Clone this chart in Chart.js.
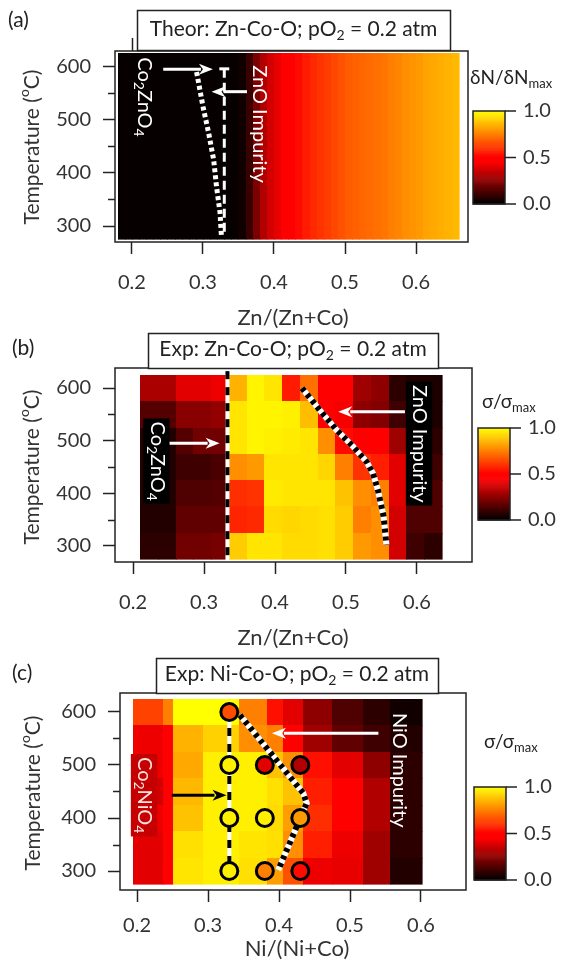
<!DOCTYPE html>
<html>
<head>
<meta charset="utf-8">
<script src="https://cdn.jsdelivr.net/npm/chart.js@4.4.1/dist/chart.umd.min.js"></script>
<style>
  body { margin: 0; background: #fff; width: 571px; height: 973px; overflow: hidden; position: relative; }
  .panel { position: absolute; left: 0; }
</style>
</head>
<body>
<div class="panel" style="top:0px"><canvas id="chartA" width="571" height="330"></canvas></div>
<div class="panel" style="top:330px"><canvas id="chartB" width="571" height="325"></canvas></div>
<div class="panel" style="top:655px"><canvas id="chartC" width="571" height="318"></canvas></div>
<script>
// ---- data ----
var tempRows = [600, 550, 500, 450, 400, 350, 300];
var xTicks = [0.2, 0.3, 0.4, 0.5, 0.6];
var yTicks = [300, 350, 400, 450, 500, 550, 600];
var cbarTicks = [0.0, 0.5, 1.0];

// (a) theory: dN/dNmax vs Zn fraction (same at every temperature)
var theorX = [0.185, 0.195, 0.205, 0.215, 0.225, 0.235, 0.245, 0.255, 0.265, 0.275, 0.285, 0.295,
  0.305, 0.315, 0.325, 0.335, 0.345, 0.355, 0.365, 0.375, 0.385, 0.395, 0.405, 0.415, 0.425, 0.435,
  0.445, 0.455, 0.465, 0.475, 0.485, 0.495, 0.505, 0.515, 0.525, 0.535, 0.545, 0.555, 0.565, 0.575,
  0.585, 0.595, 0.605, 0.615, 0.625, 0.635, 0.645, 0.655];
var theorVal = [0.01, 0.01, 0.01, 0.01, 0.01, 0.01, 0.01, 0.01, 0.01, 0.01, 0.01, 0.01,
  0.01, 0.01, 0.01, 0.01, 0.01, 0.03, 0.10, 0.22, 0.31, 0.37, 0.41, 0.45, 0.49, 0.52,
  0.55, 0.58, 0.60, 0.62, 0.64, 0.66, 0.68, 0.69, 0.70, 0.71, 0.72, 0.73, 0.75, 0.76,
  0.78, 0.79, 0.80, 0.82, 0.83, 0.84, 0.85, 0.86];
var theorBoundX = [0.291, 0.300, 0.308, 0.315, 0.319, 0.324, 0.326];
var theorBoundT = [590, 525, 475, 425, 375, 325, 280];

// (b) experiment Zn-Co-O: sigma/sigmax, rows 600..300 C, columns between edges
var znEdges = [0.210, 0.235, 0.260, 0.285, 0.310, 0.335, 0.360, 0.385, 0.410, 0.435, 0.460, 0.485,
  0.510, 0.535, 0.560, 0.585, 0.610, 0.635];
var znSigma = [
  [0.30, 0.30, 0.40, 0.40, 0.42, 0.85, 0.98, 0.95, 0.55, 0.72, 0.45, 0.46, 0.28, 0.25, 0.08, 0.05, 0.05],
  [0.15, 0.15, 0.24, 0.24, 0.26, 0.95, 0.98, 0.98, 0.97, 0.87, 0.50, 0.44, 0.25, 0.23, 0.11, 0.05, 0.05],
  [0.06, 0.06, 0.15, 0.20, 0.20, 0.95, 0.98, 0.97, 0.96, 0.95, 0.78, 0.52, 0.47, 0.47, 0.28, 0.08, 0.08],
  [0.06, 0.06, 0.11, 0.11, 0.13, 0.78, 0.80, 0.95, 0.95, 0.95, 0.92, 0.75, 0.60, 0.56, 0.40, 0.11, 0.11],
  [0.06, 0.06, 0.14, 0.14, 0.15, 0.59, 0.60, 0.96, 0.95, 0.95, 0.95, 0.88, 0.78, 0.75, 0.40, 0.17, 0.14],
  [0.06, 0.06, 0.17, 0.17, 0.17, 0.57, 0.58, 0.93, 0.92, 0.93, 0.94, 0.90, 0.75, 0.78, 0.37, 0.14, 0.14],
  [0.08, 0.08, 0.20, 0.20, 0.21, 0.90, 0.95, 0.95, 0.93, 0.93, 0.94, 0.90, 0.80, 0.78, 0.37, 0.11, 0.08]
];
var znBoundX = [0.438, 0.463, 0.487, 0.510, 0.529, 0.538, 0.545, 0.553, 0.557];
var znBoundT = [600, 558, 520, 489, 460, 438, 406, 356, 302];

// (c) experiment Ni-Co-O
var niEdges = [0.195, 0.237, 0.250, 0.293, 0.343, 0.383, 0.406, 0.434, 0.474, 0.519, 0.556, 0.601];
var niSigma = [
  [0.63, 0.75, 1.00, 1.00, 0.75, 0.53, 0.40, 0.25, 0.14, 0.08, 0.03],
  [0.42, 0.50, 0.85, 0.91, 0.78, 0.75, 0.47, 0.28, 0.17, 0.11, 0.06],
  [0.42, 0.45, 0.83, 0.97, 0.97, 0.88, 0.78, 0.53, 0.40, 0.25, 0.08],
  [0.37, 0.45, 0.86, 0.97, 0.97, 0.94, 0.88, 0.56, 0.47, 0.31, 0.08],
  [0.42, 0.45, 0.88, 0.97, 0.97, 0.93, 0.81, 0.59, 0.47, 0.31, 0.08],
  [0.40, 0.45, 0.94, 0.97, 0.95, 0.94, 0.78, 0.56, 0.42, 0.28, 0.08],
  [0.40, 0.45, 0.95, 0.97, 0.94, 0.81, 0.66, 0.42, 0.41, 0.28, 0.06]
];
var niCircX = [0.33, 0.33, 0.33, 0.33, 0.38, 0.38, 0.38, 0.43, 0.43, 0.43];
var niCircT = [600, 500, 400, 300, 500, 400, 300, 500, 400, 300];
var niCircV = [0.65, 0.97, 0.97, 0.97, 0.40, 0.97, 0.75, 0.31, 0.80, 0.52];
var niBoundX = [0.345, 0.434, 0.439, 0.399];
var niBoundT = [594, 447, 428, 302];

// ---- helpers ----
var FONT = 'Lato, "Open Sans", sans-serif';

function colorOf(v) {
    v = Math.max(0, Math.min(1, v));
    var r = Math.min(1, v / 0.45), g = Math.max(0, (v - 0.5) / 0.5);
    return 'rgb(' + Math.round(r * 255) + ',' + Math.round(g * 255) + ',0)';
}

function pts(xs, ys) {
    return xs.map(function(x, i) { return {x: x, y: ys[i]}; });
}

function gridCells(edges, matrix) {
    var cells = [];
    matrix.forEach(function(row, i) {
        row.forEach(function(v, j) {
            cells.push({x0: edges[j], x1: edges[j + 1], y0: tempRows[i] - 25, y1: tempRows[i] + 25, v: v});
        });
    });
    return cells;
}

function profileCells(xs, vals, halfW) {
    var cells = [];
    tempRows.forEach(function(t) {
        xs.forEach(function(x, j) {
            cells.push({x0: x - halfW, x1: x + halfW, y0: t - 25, y1: t + 25, v: vals[j]});
        });
    });
    return cells;
}

function richWidth(ctx, parts, size) {
    var w = 0;
    parts.forEach(function(p) {
        ctx.font = (p[1] ? Math.round(size * 0.68) : size) + 'px ' + FONT;
        w += ctx.measureText(p[0]).width;
    });
    return w;
}

function drawRich(ctx, parts, x, y, size, color) {
    ctx.fillStyle = color;
    ctx.textBaseline = 'middle';
    ctx.textAlign = 'left';
    parts.forEach(function(p) {
        var s = p[1] ? Math.round(size * 0.68) : size;
        var dy = p[1] === 'sub' ? size * 0.3 : (p[1] === 'sup' ? -size * 0.38 : 0);
        ctx.font = s + 'px ' + FONT;
        ctx.fillText(p[0], x, y + dy);
        x += ctx.measureText(p[0]).width;
    });
}

function arrow(ctx, x0, y0, x1, y1, color) {
    var ang = Math.atan2(y1 - y0, x1 - x0), hl = 12, hw = 5.5;
    ctx.save();
    ctx.strokeStyle = color; ctx.fillStyle = color; ctx.lineWidth = 3;
    ctx.beginPath(); ctx.moveTo(x0, y0);
    ctx.lineTo(x1 - hl * Math.cos(ang), y1 - hl * Math.sin(ang)); ctx.stroke();
    ctx.translate(x1, y1); ctx.rotate(ang);
    ctx.beginPath(); ctx.moveTo(0, 0); ctx.lineTo(-hl - 2, -hw); ctx.lineTo(-hl + 2, 0); ctx.lineTo(-hl - 2, hw);
    ctx.closePath(); ctx.fill();
    ctx.restore();
}

// ---- per panel setup ----
var panels = {
    chartA: {
        top: 0, padTop: 51, padRight: 103, yW: 115, xH: 88,
        xMin: 0.1761, xMax: 0.6732, yMin: 269.9, yMax: 629.6, tickPad: 17,
        cells: profileCells(theorX, theorVal, 0.005),
        tag: '(a)', tagXY: [8, 20],
        title: [['Theor: Zn-Co-O; pO'], ['2', 'sub'], [' = 0.2 atm']], titleBox: [137, 10, 450, 50],
        xLabel: 'Zn/(Zn+Co)', xLabelXY: [293, 318], yLabelXY: [32, 147],
        cbar: [473, 111, 505, 204], cbarTitle: [['\u03b4N/\u03b4N'], ['max', 'sub']], cbarTitleXY: [470, 78],
        mirrorTick: true,
        arrows: [[0.244, 595, 0.314, 595, '#fff'], [0.362, 553, 0.312, 553, '#fff']],
        labels: [
            {parts: [['Co'], ['2', 'sub'], ['ZnO'], ['4', 'sub']], x: 0.218, y: 543, color: '#fff'},
            {parts: [['ZnO Impurity']], x: 0.379, y: 492, color: '#fff'}
        ],
        datasets: [
            {data: pts(theorBoundX, theorBoundT), showLine: true, borderColor: '#fff', borderWidth: 5,
             borderDash: [4, 3], pointRadius: 0, order: 2},
            {data: pts([0.33, 0.33], [596, 280]), showLine: true, borderColor: '#fff', borderWidth: 3,
             borderDash: [9, 5], pointRadius: 0, order: 3},
            {data: pts([0.323, 0.337], [596, 596]), showLine: true, borderColor: '#fff', borderWidth: 3,
             pointRadius: 0, order: 3}
        ]
    },
    chartB: {
        top: 330, padTop: 38, padRight: 99, yW: 115, xH: 93,
        xMin: 0.1746, xMax: 0.6775, yMin: 269.6, yMax: 638.0, tickPad: 17,
        cells: gridCells(znEdges, znSigma),
        tag: '(b)', tagXY: [12, 348],
        title: [['Exp: Zn-Co-O; pO'], ['2', 'sub'], [' = 0.2 atm']], titleBox: [148, 333, 438, 368],
        xLabel: 'Zn/(Zn+Co)', xLabelXY: [293, 638], yLabelXY: [32, 467],
        cbar: [478, 428, 510, 520], cbarTitle: [['\u03c3/\u03c3'], ['max', 'sub']], cbarTitleXY: [482, 402],
        arrows: [[0.249, 495, 0.322, 495, '#fff'], [0.583, 555, 0.489, 555, '#fff']],
        labels: [
            {parts: [['Co'], ['2', 'sub'], ['ZnO'], ['4', 'sub']], x: 0.234, y: 461, color: '#fff', bg: '#000'},
            {parts: [['ZnO Impurity']], x: 0.604, y: 494, color: '#fff', bg: '#000'}
        ],
        datasets: [
            {data: pts(znBoundX, znBoundT), showLine: true, borderColor: '#000', borderWidth: 6,
             borderDash: [4, 4], pointRadius: 0, order: 1},
            {data: pts(znBoundX, znBoundT), showLine: true, borderColor: '#fff', borderWidth: 6,
             pointRadius: 0, order: 2},
            {data: pts([0.333, 0.333], [632, 268]), showLine: true, borderColor: '#000', borderWidth: 4,
             borderDash: [8, 8], pointRadius: 0, order: 3},
            {data: pts([0.333, 0.333], [632, 268]), showLine: true, borderColor: '#fff', borderWidth: 4,
             pointRadius: 0, order: 4}
        ]
    },
    chartC: {
        top: 655, padTop: 38, padRight: 105, yW: 120, xH: 83,
        xMin: 0.176, xMax: 0.6634, yMin: 264.2, yMax: 635.8, tickPad: 12,
        cells: gridCells(niEdges, niSigma),
        tag: '(c)', tagXY: [12, 673],
        title: [['Exp: Ni-Co-O; pO'], ['2', 'sub'], [' = 0.2 atm']], titleBox: [156, 658, 438, 693],
        xLabel: 'Ni/(Ni+Co)', xLabelXY: [297, 949], yLabelXY: [33, 793],
        cbar: [474, 787, 506, 880], cbarTitle: [['\u03c3/\u03c3'], ['max', 'sub']], cbarTitleXY: [484, 742],
        arrows: [[0.249, 443, 0.326, 443, '#000'], [0.540, 560, 0.390, 560, '#fff']],
        labels: [
            {parts: [['Co'], ['2', 'sub'], ['NiO'], ['4', 'sub']], x: 0.211, y: 443, color: '#ffe0e0', bg: '#c40000'},
            {parts: [['NiO Impurity']], x: 0.570, y: 490, color: '#fff'}
        ],
        datasets: [
            {data: pts(niCircX, niCircT), pointRadius: 8.5, pointBorderWidth: 3, pointBorderColor: '#000',
             pointBackgroundColor: niCircV.map(colorOf), order: 0},
            {data: pts(niBoundX, niBoundT), showLine: true, borderColor: '#000', borderWidth: 6,
             borderDash: [4, 4], pointRadius: 0, order: 1},
            {data: pts(niBoundX, niBoundT), showLine: true, borderColor: '#fff', borderWidth: 6,
             pointRadius: 0, order: 2},
            {data: pts([0.33, 0.33], [600, 300]), showLine: true, borderColor: '#000', borderWidth: 4,
             borderDash: [8, 8], pointRadius: 0, order: 3},
            {data: pts([0.33, 0.33], [600, 300]), showLine: true, borderColor: '#fff', borderWidth: 4,
             pointRadius: 0, order: 4}
        ]
    }
};

var heatPlugin = {
    id: 'heat',
    beforeDatasetsDraw: function(chart) {
        var p = panels[chart.canvas.id], xs = chart.scales.x, ys = chart.scales.y, ctx = chart.ctx, a = chart.chartArea;
        ctx.save();
        ctx.beginPath(); ctx.rect(a.left, a.top, a.right - a.left, a.bottom - a.top); ctx.clip();
        p.cells.forEach(function(c) {
            var x0 = Math.round(xs.getPixelForValue(c.x0)), x1 = Math.round(xs.getPixelForValue(c.x1));
            var y0 = Math.round(ys.getPixelForValue(c.y1)), y1 = Math.round(ys.getPixelForValue(c.y0));
            ctx.fillStyle = colorOf(c.v);
            ctx.fillRect(x0, y0, x1 - x0 + 0.6, y1 - y0 + 0.6);
        });
        ctx.restore();
    }
};

var decorPlugin = {
    id: 'decor',
    afterDatasetsDraw: function(chart) {
        var p = panels[chart.canvas.id], xs = chart.scales.x, ys = chart.scales.y, ctx = chart.ctx;
        p.arrows.forEach(function(r) {
            arrow(ctx, xs.getPixelForValue(r[0]), ys.getPixelForValue(r[1]),
                  xs.getPixelForValue(r[2]), ys.getPixelForValue(r[3]), r[4]);
        });
        p.labels.forEach(function(l) {
            var size = 20, w = richWidth(ctx, l.parts, size);
            ctx.save();
            ctx.translate(xs.getPixelForValue(l.x), ys.getPixelForValue(l.y));
            ctx.rotate(Math.PI / 2);
            if (l.bg) {
                ctx.fillStyle = l.bg;
                ctx.fillRect(-w / 2 - 3, -size * 0.62, w + 6, size * 1.32);
            }
            drawRich(ctx, l.parts, -w / 2, 0, size, l.color);
            ctx.restore();
        });
    },
    afterDraw: function(chart) {
        var p = panels[chart.canvas.id], ys = chart.scales.y, xs = chart.scales.x, ctx = chart.ctx, a = chart.chartArea;
        var off = p.top;
        ctx.save();
        // minor ticks
        ctx.strokeStyle = '#222'; ctx.lineWidth = 1.5;
        yTicks.forEach(function(v) {
            if (v % 100 === 0) return;
            var y = Math.round(ys.getPixelForValue(v)) + 0.5;
            ctx.beginPath(); ctx.moveTo(a.left - 7, y); ctx.lineTo(a.left, y); ctx.stroke();
        });
        if (p.mirrorTick) {
            var mx = Math.round(xs.getPixelForValue(0.2)) + 0.5;
            ctx.beginPath(); ctx.moveTo(mx, a.top); ctx.lineTo(mx, a.top - 13); ctx.stroke();
        }
        // frame
        ctx.strokeRect(a.left, a.top, a.right - a.left, a.bottom - a.top);
        // title box
        var b = p.titleBox;
        ctx.fillStyle = '#fff';
        ctx.fillRect(b[0], b[1] - off, b[2] - b[0], b[3] - b[1]);
        ctx.strokeRect(b[0] + 0.5, b[1] - off + 0.5, b[2] - b[0], b[3] - b[1]);
        var tw = richWidth(ctx, p.title, 21);
        drawRich(ctx, p.title, (b[0] + b[2]) / 2 - tw / 2, (b[1] + b[3]) / 2 - off - 1, 21, '#222');
        // panel tag
        drawRich(ctx, [[p.tag]], p.tagXY[0], p.tagXY[1] - off, 21, '#222');
        // axis titles
        var xw = richWidth(ctx, [[p.xLabel]], 22);
        drawRich(ctx, [[p.xLabel]], p.xLabelXY[0] - xw / 2, p.xLabelXY[1] - off, 22, '#333');
        var yParts = [['Temperature ('], ['o', 'sup'], ['C)']];
        var yw = richWidth(ctx, yParts, 21);
        ctx.save();
        ctx.translate(p.yLabelXY[0], p.yLabelXY[1] - off);
        ctx.rotate(-Math.PI / 2);
        drawRich(ctx, yParts, -yw / 2, 0, 21, '#333');
        ctx.restore();
        // colour bar
        var c = p.cbar, cy0 = c[1] - off, cy1 = c[3] - off, n = 90;
        for (var k = 0; k < n; k++) {
            ctx.fillStyle = colorOf(1 - (k + 0.5) / n);
            ctx.fillRect(c[0], cy0 + (cy1 - cy0) * k / n, c[2] - c[0], (cy1 - cy0) / n + 0.6);
        }
        ctx.strokeStyle = '#222'; ctx.lineWidth = 1.5;
        ctx.strokeRect(c[0], cy0, c[2] - c[0], cy1 - cy0);
        cbarTicks.forEach(function(v) {
            var y = cy1 - (cy1 - cy0) * v;
            ctx.beginPath(); ctx.moveTo(c[2], y); ctx.lineTo(c[2] + 11, y); ctx.stroke();
            drawRich(ctx, [[v.toFixed(1)]], c[2] + 18, y, 20, '#333');
        });
        drawRich(ctx, p.cbarTitle, p.cbarTitleXY[0], p.cbarTitleXY[1] - off, 19, '#222');
        ctx.restore();
    }
};

function makeChart(id) {
    var p = panels[id];
    return new Chart(document.getElementById(id), {
        type: 'scatter',
        data: {datasets: p.datasets},
        options: {
            responsive: false,
            animation: false,
            devicePixelRatio: 1,
            layout: {padding: {top: p.padTop, right: p.padRight, bottom: 0, left: 0}},
            plugins: {legend: {display: false}, tooltip: {enabled: false}},
            scales: {
                x: {
                    type: 'linear', min: p.xMin, max: p.xMax,
                    afterBuildTicks: function(s) { s.ticks = xTicks.map(function(v) { return {value: v}; }); },
                    afterFit: function(s) { s.height = p.xH; },
                    ticks: {
                        callback: function(v) { return v.toFixed(1); },
                        font: {size: 20, family: FONT}, color: '#333', padding: p.tickPad,
                        maxRotation: 0, autoSkip: false
                    },
                    grid: {drawOnChartArea: false, tickLength: 12, tickWidth: 1.5, tickColor: '#222'},
                    border: {display: false}
                },
                y: {
                    type: 'linear', min: p.yMin, max: p.yMax,
                    afterBuildTicks: function(s) { s.ticks = yTicks.map(function(v) { return {value: v}; }); },
                    afterFit: function(s) { s.width = p.yW; },
                    ticks: {
                        callback: function(v) { return v % 100 === 0 ? String(v) : ''; },
                        font: {size: 20, family: FONT}, color: '#333', padding: 12, autoSkip: false
                    },
                    grid: {
                        drawOnChartArea: false, tickLength: 12, tickWidth: 1.5,
                        tickColor: function(ctx) { return ctx.tick && ctx.tick.value % 100 === 0 ? '#222' : 'rgba(0,0,0,0)'; }
                    },
                    border: {display: false}
                }
            }
        },
        plugins: [heatPlugin, decorPlugin]
    });
}

function start() {
    makeChart('chartA');
    makeChart('chartB');
    makeChart('chartC');
}

if (document.fonts && document.fonts.load) {
    document.fonts.load('20px Lato').then(start, start);
} else {
    start();
}
</script>
</body>
</html>
